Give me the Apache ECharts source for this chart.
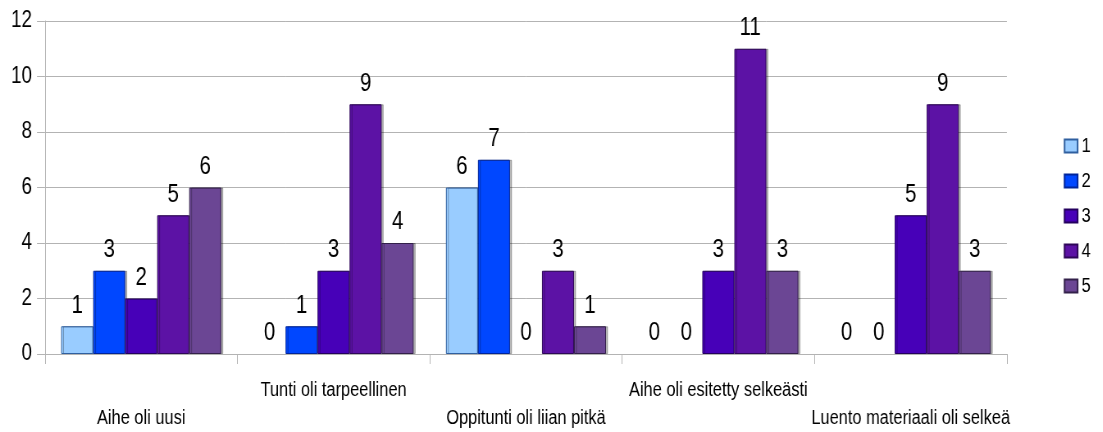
<!DOCTYPE html>
<html>
<head>
<meta charset="utf-8">
<script src="https://cdn.jsdelivr.net/npm/echarts@6/dist/echarts.min.js"></script>
<style>
  html, body { margin: 0; padding: 0; background: #fff; overflow: hidden; }
  /* The chart is laid out wider and squeezed horizontally so the
     Arial-style lettering gets the narrow look of the original chart font. */
  #chart { width: 1345px; height: 432px; transform: scaleX(0.82); transform-origin: 0 0; }
</style>
</head>
<body>
<div id="chart"></div>
<script>
// Survey answers: how many respondents picked each score (1-5) per statement
const categories = [
  'Aihe oli uusi',
  'Tunti oli tarpeellinen',
  'Oppitunti oli liian pitkä',
  'Aihe oli esitetty selkeästi',
  'Luento materiaali oli selkeä'
];
const seriesNames = ['1', '2', '3', '4', '5'];
const score1 = [1, 0, 6, 0, 0];
const score2 = [3, 1, 7, 0, 0];
const score3 = [2, 3, 0, 3, 5];
const score4 = [5, 9, 3, 11, 9];
const score5 = [6, 4, 1, 3, 3];
const yTicks = [0, 2, 4, 6, 8, 10, 12];

const fills = ['#99ccff', '#0047ff', '#4700b8', '#5c12a5', '#6b4694'];
const edges = ['#2f5f9f', '#00249a', '#24005e', '#2e0758', '#33204a'];
const values = [score1, score2, score3, score4, score5];

const SX = 0.82; // horizontal squeeze applied by CSS
const px = function (v) { return v / SX; };
const FONT = '"Liberation Sans", Arial, sans-serif';

const chart = echarts.init(document.getElementById('chart'), null, { renderer: 'canvas' });

chart.setOption({
  animation: false,
  backgroundColor: '#ffffff',
  textStyle: { fontFamily: FONT, color: '#000' },
  grid: { left: px(45), right: px(96), top: 21, bottom: 74, containLabel: false },
  legend: {
    orient: 'vertical',
    right: px(8),
    top: 'middle',
    data: seriesNames,
    itemWidth: px(13),
    itemHeight: 13,
    itemGap: 14,
    icon: 'rect',
    textStyle: { fontFamily: FONT, fontSize: 20, color: '#000', lineHeight: 21 }
  },
  xAxis: {
    type: 'category',
    data: categories,
    axisLine: { show: true, lineStyle: { color: '#b3b3b3', width: 1 } },
    axisTick: { show: true, length: 10, alignWithLabel: false, interval: 0, lineStyle: { color: '#b3b3b3' } },
    axisLabel: {
      interval: 0,
      margin: 22,
      fontFamily: FONT,
      fontSize: 20,
      lineHeight: 28,
      color: '#000',
      formatter: function (v, i) { return i % 2 === 0 ? '\n' + v : v; }
    },
    splitLine: { show: false }
  },
  yAxis: {
    type: 'value',
    min: yTicks[0],
    max: yTicks[yTicks.length - 1],
    interval: yTicks[1] - yTicks[0],
    axisLine: { show: true, lineStyle: { color: '#b3b3b3', width: 1 } },
    axisTick: { show: true, length: px(8), lineStyle: { color: '#b3b3b3' } },
    axisLabel: { margin: px(13), fontFamily: FONT, fontSize: 23, color: '#000' },
    splitLine: { show: true, lineStyle: { color: '#b3b3b3', width: 1 } }
  },
  series: seriesNames.map(function (name, k) {
    return {
      name: name,
      type: 'bar',
      // empty bars get no outline so nothing is drawn on the baseline
      data: values[k].map(function (v) {
        return v === 0 ? { value: v, itemStyle: { borderWidth: 0, shadowColor: 'transparent' } } : v;
      }),
      barGap: '0%',
      barCategoryGap: '16.8%',
      itemStyle: {
        color: fills[k],
        borderColor: edges[k],
        borderWidth: 1,
        shadowColor: 'rgba(0,0,0,0.28)',
        shadowOffsetX: px(2),
        shadowOffsetY: 0,
        shadowBlur: 0
      },
      label: {
        show: true,
        position: 'top',
        distance: 8,
        fontFamily: FONT,
        fontSize: 25,
        color: '#000'
      }
    };
  })
});
</script>
</body>
</html>
